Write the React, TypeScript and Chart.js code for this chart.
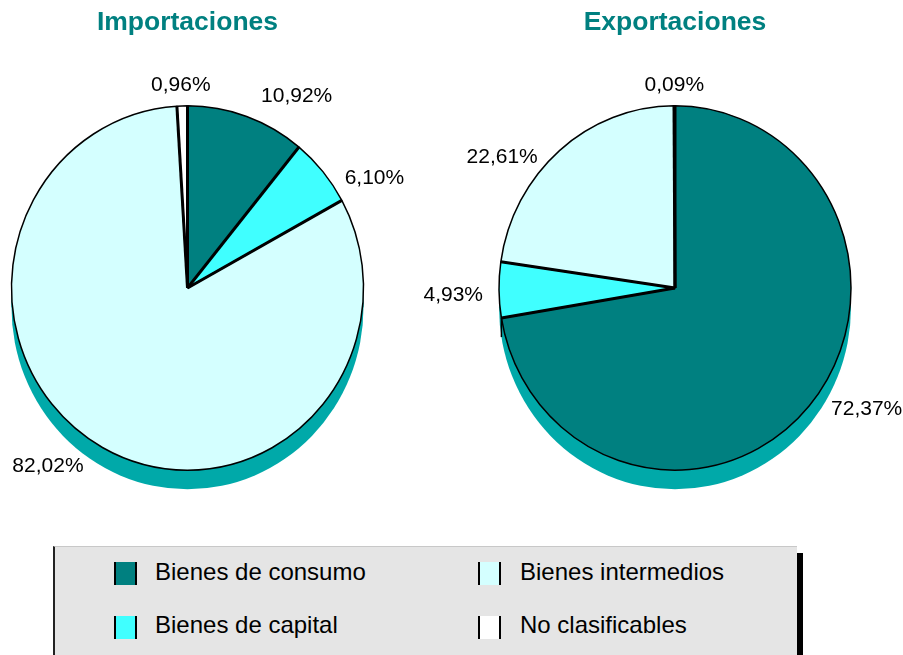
import React, { useEffect, useRef } from 'react';
import { Chart, registerables } from 'chart.js';

Chart.register(...registerables);

const categories = ['Bienes de consumo', 'Bienes de capital', 'Bienes intermedios', 'No clasificables'];
const importaciones = [10.92, 6.10, 82.02, 0.96];
const exportaciones = [72.37, 4.93, 22.61, 0.09];
const chartTitles = ['Importaciones', 'Exportaciones'];
const sliceColors = ['#008080', '#40FFFF', '#D4FFFF', '#FFFFFF'];
const legendOrder = [0, 2, 1, 3];

const DEPTH_COLOR = '#00A9A9';
const FONT = '"Liberation Sans", Arial, Helvetica, sans-serif';
const SY = 1.035;
const DEPTH = 18.5;

const fmt = (v: number) => v.toFixed(2).replace('.', ',') + '%';

const pie3d = {
  id: 'pie3d',
  beforeDatasetsDraw(chart: any) {
    const meta = chart.getDatasetMeta(0);
    const arc = meta.data[0];
    const ctx = chart.ctx;
    ctx.save();
    if (!arc) return;
    const { x, y, outerRadius } = arc.getProps(['x', 'y', 'outerRadius'], true);
    ctx.translate(x, y);
    ctx.scale(1, SY);
    ctx.translate(-x, -y);
    ctx.fillStyle = DEPTH_COLOR;
    ctx.beginPath();
    ctx.arc(x, y + DEPTH, outerRadius, 0, Math.PI * 2);
    ctx.fill();
    ctx.fillRect(x - outerRadius, y, outerRadius * 2, DEPTH);
  },
  afterDatasetsDraw(chart: any) {
    const meta = chart.getDatasetMeta(0);
    const ctx = chart.ctx;
    const arcs = meta.data;
    if (!arcs.length) { ctx.restore(); return; }
    const { x, y, outerRadius: r } = arcs[0].getProps(['x', 'y', 'outerRadius'], true);
    ctx.strokeStyle = '#000';
    ctx.lineCap = 'butt';
    arcs.forEach((a: any) => {
      const { startAngle } = a.getProps(['startAngle'], true);
      const px = x + r * Math.cos(startAngle);
      const py = y + r * Math.sin(startAngle);
      ctx.lineWidth = 3;
      ctx.beginPath();
      ctx.moveTo(x, y);
      ctx.lineTo(px, py);
      ctx.stroke();
      if (Math.sin(startAngle) > 0.02) {
        ctx.lineWidth = 1.5;
        ctx.beginPath();
        ctx.moveTo(px, py);
        ctx.lineTo(px, py + DEPTH);
        ctx.stroke();
      }
    });
    ctx.restore();

    const values = chart.data.datasets[0].data;
    ctx.save();
    ctx.font = `21px ${FONT}`;
    ctx.fillStyle = '#000';
    arcs.forEach((a: any, i: number) => {
      const { startAngle, endAngle } = a.getProps(['startAngle', 'endAngle'], true);
      const mid = (startAngle + endAngle) / 2;
      const ux = Math.cos(mid);
      const uy = Math.sin(mid);
      const rx = r + 16 + 30 * uy * uy;
      const ax = x + rx * ux;
      let ay: number;
      if (Math.abs(uy) > 0.85) {
        ay = y + (r + 16) * uy;
        ctx.textBaseline = uy < 0 ? 'bottom' : 'top';
      } else {
        ay = y + (r + 4) * uy + 5;
        ctx.textBaseline = 'middle';
      }
      ctx.textAlign = ux > 0.25 ? 'left' : ux < -0.25 ? 'right' : 'center';
      ctx.fillText(fmt(values[i]), ax, ay);
    });
    ctx.restore();
  },
};

type PieProps = {
  values: number[];
  title: string;
  left: number;
  width: number;
  padLeft: number;
  padRight: number;
};

const CANVAS_H = 540;

function Pie({ values, title, left, width, padLeft, padRight }: PieProps) {
  const ref = useRef<HTMLCanvasElement | null>(null);
  useEffect(() => {
    if (!ref.current) return;
    const chart = new Chart(ref.current, {
      type: 'pie',
      data: {
        labels: categories,
        datasets: [
          {
            data: values,
            backgroundColor: sliceColors,
            borderColor: '#000',
            borderWidth: 1.5,
            radius: 176,
            clip: false,
          } as any,
        ],
      },
      options: {
        responsive: false,
        animation: false,
        layout: { padding: { left: padLeft, right: padRight, top: 0, bottom: 76 } },
        plugins: {
          legend: { display: false },
          tooltip: { enabled: false },
          title: {
            display: true,
            text: title,
            color: '#008080',
            fullSize: false,
            font: { family: FONT, size: 26.5, weight: 'bold', lineHeight: 1.2 },
            padding: { top: 7, bottom: 73.2 },
          },
        },
      } as any,
      plugins: [pie3d],
    });
    return () => chart.destroy();
  }, []);
  return (
    <canvas
      ref={ref}
      width={width}
      height={CANVAS_H}
      style={{ position: 'absolute', left, top: 0, width, height: CANVAS_H }}
    />
  );
}

export default function App() {
  return (
    <div
      style={{
        position: 'absolute',
        left: 0,
        top: 0,
        width: 903,
        height: 655,
        overflow: 'hidden',
        background: '#fff',
        fontFamily: FONT,
      }}
    >
      <Pie values={importaciones} title={chartTitles[0]} left={0} width={451} padLeft={11.5} padRight={87.5} />
      <Pie values={exportaciones} title={chartTitles[1]} left={400} width={503} padLeft={99} padRight={52} />
      <div
        style={{
          position: 'absolute',
          left: 53,
          top: 546,
          width: 744,
          height: 120,
          background: '#E5E5E5',
          borderLeft: '2px solid #222',
          borderTop: '1px solid #C8C8C8',
          boxSizing: 'border-box',
          boxShadow: '6px 7px 0 0 #000',
        }}
      >
        {legendOrder.map((ci, k) => {
          const col = k % 2;
          const row = Math.floor(k / 2);
          const sx = col === 0 ? 59 : 423;
          const sy = row === 0 ? 15 : 69;
          return (
            <React.Fragment key={ci}>
              <div
                style={{
                  position: 'absolute',
                  left: sx,
                  top: sy,
                  width: 23,
                  height: 23,
                  background: sliceColors[ci],
                  borderLeft: '2px solid #000',
                  borderRight: '2px solid #000',
                  boxSizing: 'border-box',
                }}
              />
              <div
                style={{
                  position: 'absolute',
                  left: sx + 41 + col,
                  top: row === 0 ? 11 : 64,
                  fontSize: 24,
                  lineHeight: '28px',
                  color: '#000',
                  whiteSpace: 'nowrap',
                }}
              >
                {categories[ci]}
              </div>
            </React.Fragment>
          );
        })}
      </div>
    </div>
  );
}
